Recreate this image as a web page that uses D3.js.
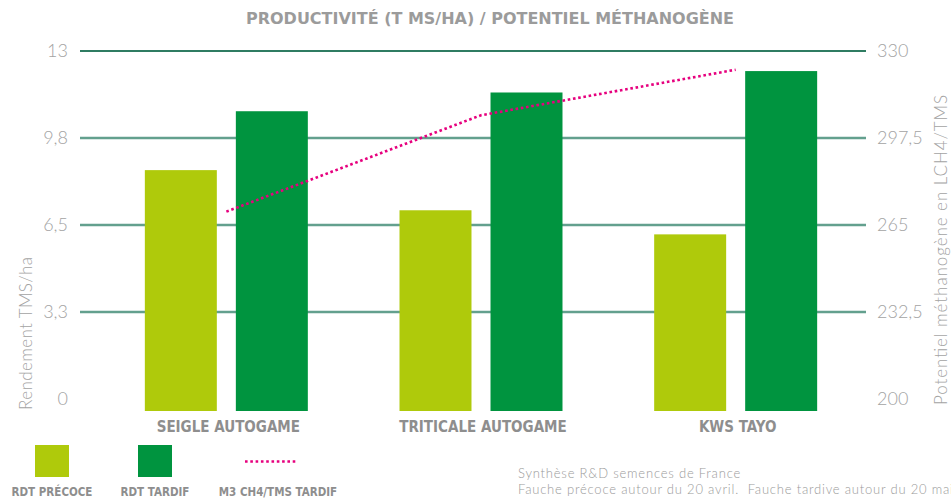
<!DOCTYPE html>
<html>
<head>
<meta charset="utf-8">
<script src="https://cdn.jsdelivr.net/npm/d3@7"></script>
<style>
  html, body { margin: 0; padding: 0; background: #fff; overflow: hidden; }
  svg { display: block; }
</style>
</head>
<body>
<div id="canvas"></div>
<script>
const categories = ['SEIGLE AUTOGAME', 'TRITICALE AUTOGAME', 'KWS TAYO'];
const rdt_precoce = [8.55, 7.05, 6.15];
const rdt_tardif = [10.75, 11.45, 12.25];
const m3_ch4_tardif = [270, 306, 323];
const left_ticks = [0, 3.25, 6.5, 9.75, 13];
const left_tick_labels = ['0', '3,3', '6,5', '9,8', '13'];
const right_ticks = [200, 232.5, 265, 297.5, 330];
const right_tick_labels = ['200', '232,5', '265', '297,5', '330'];
const legend_labels = ['RDT PRÉCOCE', 'RDT TARDIF', 'M3 CH4/TMS TARDIF'];

const width = 951, height = 499;
const grid_left = 80, grid_right = 866;
const top_y = 51, bottom_y = 399;
const bar_overhang = 12;

const c_precoce = '#afca0b';
const c_tardif = '#00943f';
const c_line = '#e6007e';
const c_text = '#a3a3a3';
const condensed = "'Liberation Sans Narrow', 'DejaVu Sans Condensed', 'Roboto', sans-serif";
const light = "'Lato', 'Open Sans', sans-serif";

let svg = d3.select('#canvas')
  .append('svg')
  .attr('width', width)
  .attr('height', height);

const x0 = d3.scaleBand()
  .domain(categories)
  .range([99, 863])
  .paddingInner(0.36)
  .paddingOuter(0.18);

const x1 = d3.scaleBand()
  .domain(['precoce', 'tardif'])
  .range([0, x0.bandwidth()])
  .paddingInner(0.209);

const yLeft = d3.scaleLinear().domain([0, 13]).range([bottom_y, top_y]);
const yRight = d3.scaleLinear().domain([200, 330]).range([bottom_y, top_y]);

// title
svg.append('text')
  .attr('x', 490)
  .attr('y', 24)
  .attr('text-anchor', 'middle')
  .attr('font-family', condensed)
  .attr('font-weight', 'bold')
  .attr('font-size', '16px')
  .attr('textLength', 488)
  .attr('lengthAdjust', 'spacingAndGlyphs')
  .attr('fill', '#9b9b9b')
  .text('PRODUCTIVITÉ (T MS/HA) / POTENTIEL MÉTHANOGÈNE');

// gridlines (no line at zero)
svg.selectAll('.grid')
  .data(left_ticks.filter((d) => d > 0))
  .join('line')
  .attr('class', 'grid')
  .attr('x1', grid_left)
  .attr('x2', grid_right)
  .attr('y1', (d) => yLeft(d))
  .attr('y2', (d) => yLeft(d))
  .attr('stroke', (d) => d === 13 ? '#2f7c62' : '#63a08e')
  .attr('stroke-width', (d) => d === 13 ? 2 : 2.5);

// left ticks
svg.selectAll('.tick-left')
  .data(left_ticks)
  .join('text')
  .attr('class', 'tick-left')
  .attr('x', 68)
  .attr('y', (d) => yLeft(d))
  .attr('dy', '0.35em')
  .attr('text-anchor', 'end')
  .attr('font-family', light)
  .attr('font-weight', 300)
  .attr('font-size', '18px')
  .attr('fill', c_text)
  .text((d, i) => left_tick_labels[i]);

// right ticks
svg.selectAll('.tick-right')
  .data(right_ticks)
  .join('text')
  .attr('class', 'tick-right')
  .attr('x', 877)
  .attr('y', (d) => yRight(d))
  .attr('dy', '0.35em')
  .attr('font-family', light)
  .attr('font-weight', 300)
  .attr('font-size', '18px')
  .attr('fill', c_text)
  .text((d, i) => right_tick_labels[i]);

// axis titles
svg.append('text')
  .attr('transform', `translate(32, ${bottom_y + 11}) rotate(-90)`)
  .attr('font-family', light)
  .attr('font-weight', 300)
  .attr('font-size', '17px')
  .attr('textLength', 153)
  .attr('fill', c_text)
  .text('Rendement TMS/ha');

svg.append('text')
  .attr('transform', `translate(947, ${bottom_y + 6}) rotate(-90)`)
  .attr('font-family', light)
  .attr('font-weight', 300)
  .attr('font-size', '17px')
  .attr('textLength', 310)
  .attr('fill', c_text)
  .text('Potentiel méthanogène en LCH4/TMS');

// bars
const groups = svg.selectAll('.group')
  .data(categories)
  .join('g')
  .attr('class', 'group')
  .attr('transform', (d) => `translate(${x0(d)},0)`);

groups.selectAll('rect')
  .data((d, i) => [
    { key: 'precoce', value: rdt_precoce[i] },
    { key: 'tardif', value: rdt_tardif[i] },
  ])
  .join('rect')
  .attr('x', (d) => x1(d.key))
  .attr('width', x1.bandwidth())
  .attr('y', (d) => yLeft(d.value))
  .attr('height', (d) => yLeft(0) - yLeft(d.value) + bar_overhang)
  .attr('fill', (d) => d.key === 'precoce' ? c_precoce : c_tardif);

// category labels
svg.selectAll('.cat')
  .data(categories)
  .join('text')
  .attr('class', 'cat')
  .attr('x', (d) => x0(d) + x0.bandwidth() / 2 + 2)
  .attr('y', 432)
  .attr('text-anchor', 'middle')
  .attr('font-family', condensed)
  .attr('font-weight', 'bold')
  .attr('font-size', '15px')
  .attr('fill', '#8e8e8e')
  .text((d) => d);

// methane line
const line = d3.line()
  .x((d, i) => x0(categories[i]) + x0.bandwidth() / 2)
  .y((d) => yRight(d));

svg.append('path')
  .datum(m3_ch4_tardif)
  .attr('d', line)
  .attr('fill', 'none')
  .attr('stroke', c_line)
  .attr('stroke-width', 2.6)
  .attr('stroke-dasharray', '2.6,2.7');

// legend
const legend_x = [52, 155, 278];
svg.append('rect')
  .attr('x', legend_x[0] - 17).attr('y', 445)
  .attr('width', 34).attr('height', 32)
  .attr('fill', c_precoce);
svg.append('rect')
  .attr('x', legend_x[1] - 17).attr('y', 445)
  .attr('width', 34).attr('height', 32)
  .attr('fill', c_tardif);
svg.append('line')
  .attr('x1', 245).attr('x2', 298)
  .attr('y1', 461.5).attr('y2', 461.5)
  .attr('stroke', c_line)
  .attr('stroke-width', 2.6)
  .attr('stroke-dasharray', '2.6,2.7');

svg.selectAll('.legend-label')
  .data(legend_labels)
  .join('text')
  .attr('class', 'legend-label')
  .attr('x', (d, i) => legend_x[i])
  .attr('y', 496)
  .attr('text-anchor', 'middle')
  .attr('font-family', condensed)
  .attr('font-weight', 'bold')
  .attr('font-size', '11.5px')
  .attr('fill', '#8e8e8e')
  .text((d) => d);

// footnote (second line runs off the right edge, as in the source)
svg.append('text')
  .attr('x', 518)
  .attr('y', 478)
  .attr('font-family', light)
  .attr('font-weight', 300)
  .attr('font-size', '13px')
  .attr('letter-spacing', '0.8px')
  .attr('fill', '#9a9a9a')
  .text('Synthèse R&D semences de France');
svg.append('text')
  .attr('x', 518)
  .attr('y', 494)
  .attr('font-family', light)
  .attr('font-weight', 300)
  .attr('font-size', '13px')
  .attr('letter-spacing', '0.8px')
  .attr('fill', '#9a9a9a')
  .text('Fauche précoce autour du 20 avril.\u00a0 Fauche tardive autour du 20 mai.');
</script>
</body>
</html>
